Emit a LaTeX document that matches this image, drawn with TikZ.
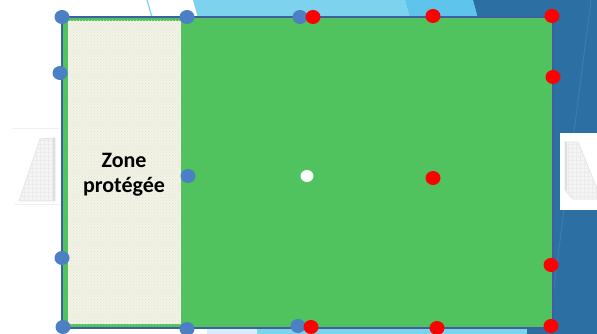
\documentclass[tikz,border=0pt]{standalone}
\usepackage{fontspec}
\newfontfamily\zonefont{Carlito}
\usetikzlibrary{shapes.geometric,patterns}
\definecolor{pitch}{RGB}{80,195,95}
\definecolor{cream}{RGB}{242,243,230}
\definecolor{creamdot}{RGB}{222,226,205}
\definecolor{lineblue}{RGB}{62,95,160}
\definecolor{dotblue}{RGB}{76,127,196}
\definecolor{skyA}{RGB}{125,210,238}
\definecolor{skyB}{RGB}{94,196,236}
\definecolor{skyC}{RGB}{215,238,250}
\definecolor{deepblue}{RGB}{44,112,163}
\tikzset{>=latex,
  dot/.style={ellipse,inner sep=0pt,minimum width=15pt,minimum height=14pt},
  bluedot/.style={dot,fill=dotblue},
  reddot/.style={dot,fill=red},
  whitedot/.style={dot,fill=white,minimum width=13pt,minimum height=12pt},
  goalnet/.style={draw=black!11,fill=black!4,line width=0.8pt},
  zonetext/.style={font=\zonefont\bfseries\fontsize{22}{25}\selectfont,align=center}}

\begin{document}
\begin{tikzpicture}[x=1pt,y=-1pt]
  \useasboundingbox (0,0) rectangle (597,334);
  % background panels
  \fill[skyA] (193,0) -- (405,0) -- (411,22) -- (199,22) -- cycle;
  \fill[skyB] (405,0) -- (473,0) -- (479,22) -- (411,22) -- cycle;
  \fill[deepblue] (473,0) -- (597,0) -- (597,334) -- (527,334) -- (527,300) -- (479,22) -- cycle;
  \draw[deepblue!90!white,line width=0.8pt] (591,0) -- (548,334); % light streak
  \fill[skyC] (207,326) rectangle (257,334);
  \fill[skyA] (257,326) rectangle (527,334);
  \draw[skyA,line width=1.2pt] (147,0) -- (152,17); % thin streak
  % goal on the left
  \draw[black!6,line width=0.8pt] (12,128) -- (60,128);
  \draw[black!6,line width=0.8pt] (14,204) -- (62,204);
  \draw[goalnet] (40,139) -- (55,138) -- (55,201) -- (19,201) -- cycle;
  \begin{scope}
    \clip (40,139) -- (55,138) -- (55,201) -- (19,201) -- cycle;
    \draw[black!8,step=4pt,line width=0.4pt] (15,135) grid (56,202);
  \end{scope}
  \draw[black!13,line width=2pt] (54,138) -- (54,201); % post
  % goal on the right
  \fill[white] (560,133) rectangle (597,210);
  \begin{scope}
    \clip (560,133) rectangle (597,210);
    \draw[goalnet] (565,142) -- (578,142) -- (600,196) -- (600,199) -- (573,199) -- (565,190) -- cycle;
    \clip (565,142) -- (578,142) -- (600,196) -- (600,199) -- (573,199) -- (565,190) -- cycle;
    \draw[black!8,step=4pt,line width=0.4pt] (563,140) grid (600,200);
  \end{scope}
  \draw[black!13,line width=2pt] (566,142) -- (566,190); % post
  % pitch
  \draw[line width=2pt,draw=lineblue,fill=pitch] (62,17) rectangle (553,328);
  \fill[cream,postaction={pattern=crosshatch dots,pattern color=creamdot}] (68,21) rectangle (181,324);
  \node[zonetext] (zone) at (124,175) {Zone\\protégée};
  \foreach \n/\x/\y in {1/62/17,2/187/17,3/300/17,4/60/73,5/188/176,6/62/258,7/63/327,8/187/329,9/298/326}{ % blue cones
    \node[bluedot] (b\n) at (\x,\y) {};
  }
  \foreach \n/\x/\y in {1/313/17,2/433/16,3/552/16,4/553/77,5/433/178,6/551/265,7/311/327,8/437/328,9/551/326}{ % red cones
    \node[reddot] (r\n) at (\x,\y) {};
  }
  \node[whitedot] (ball) at (307,176) {};
\end{tikzpicture}
\end{document}
